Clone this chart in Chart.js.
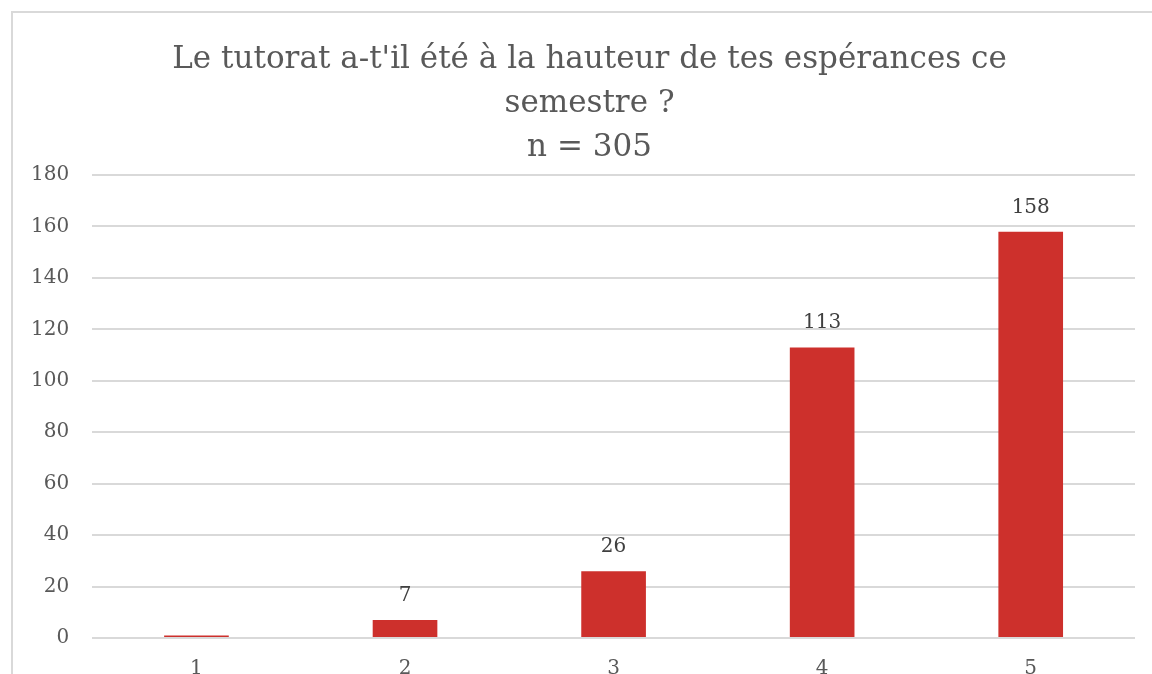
<!DOCTYPE html>
<html lang="fr">
<head>
<meta charset="UTF-8">
<title>Tutorat</title>
<script src="https://cdn.jsdelivr.net/npm/chart.js"></script>
<style>
  html, body { margin: 0; padding: 0; background: #fff; overflow: hidden; }
  #wrap { position: relative; width: 1152px; height: 674px; overflow: hidden; }
  #frame { position: absolute; left: 11px; top: 11px; width: 1200px; height: 800px;
           border-left: 2px solid #d9d9d9; border-top: 2px solid #d9d9d9; box-sizing: border-box; }
  canvas { position: absolute; left: 0; top: 0; }
</style>
</head>
<body>
<div id="wrap">
  <div id="frame"></div>
  <canvas id="chart" width="1188" height="700"></canvas>
</div>
<script>
// values
const categories = ['1', '2', '3', '4', '5'];
const answers = [1, 7, 26, 113, 158];
const valueLabels = ['', '7', '26', '113', '158']; // Excel hid the "1"
const titleLines = ["Le tutorat a-t'il été à la hauteur de tes espérances ce", 'semestre ?', 'n = 305'];

const serif = "'DejaVu Serif', 'Liberation Serif', serif";

// draw the numbers above the bars
const barLabels = {
  id: 'barLabels',
  afterDatasetsDraw(chart) {
    const ctx = chart.ctx;
    const meta = chart.getDatasetMeta(0);
    ctx.save();
    ctx.fillStyle = '#404040';
    ctx.font = '20px ' + serif;
    ctx.textAlign = 'center';
    ctx.textBaseline = 'alphabetic';
    meta.data.forEach((bar, i) => {
      if (valueLabels[i]) ctx.fillText(valueLabels[i], bar.x, bar.y - 19);
    });
    ctx.restore();
  }
};

new Chart(document.getElementById('chart'), {
  type: 'bar',
  data: {
    labels: categories,
    datasets: [{
      data: answers,
      backgroundColor: '#CD302C',
      borderWidth: 0,
      categoryPercentage: 1,
      barPercentage: 0.31
    }]
  },
  options: {
    responsive: false,
    animation: false,
    layout: { padding: { left: 8, right: 17, top: 16, bottom: 0 } },
    plugins: {
      legend: { display: false },
      tooltip: { enabled: false },
      title: {
        display: true,
        text: titleLines,
        color: '#595959',
        font: { family: serif, size: 31, weight: 'normal', lineHeight: 1.42 },
        padding: { top: 22, bottom: 5 }
      }
    },
    scales: {
      y: {
        min: 0,
        max: 180,
        ticks: { stepSize: 20, color: '#595959', font: { family: serif, size: 20 }, padding: 23 },
        grid: { color: '#d9d9d9', lineWidth: 2, drawTicks: false },
        border: { display: false }
      },
      // empty right axis: only there to push the plot back left so the
      // title centres on the whole frame like in Excel
      spacer: {
        position: 'right',
        min: 0,
        max: 180,
        ticks: { display: false },
        grid: { display: false, drawTicks: false },
        border: { display: false },
        afterFit(scale) { scale.width = 36; }
      },
      x: {
        ticks: { color: '#595959', font: { family: serif, size: 20 }, padding: 19 },
        grid: { display: false, drawTicks: false },
        border: { display: false }
      }
    }
  },
  plugins: [barLabels]
});
</script>
</body>
</html>
